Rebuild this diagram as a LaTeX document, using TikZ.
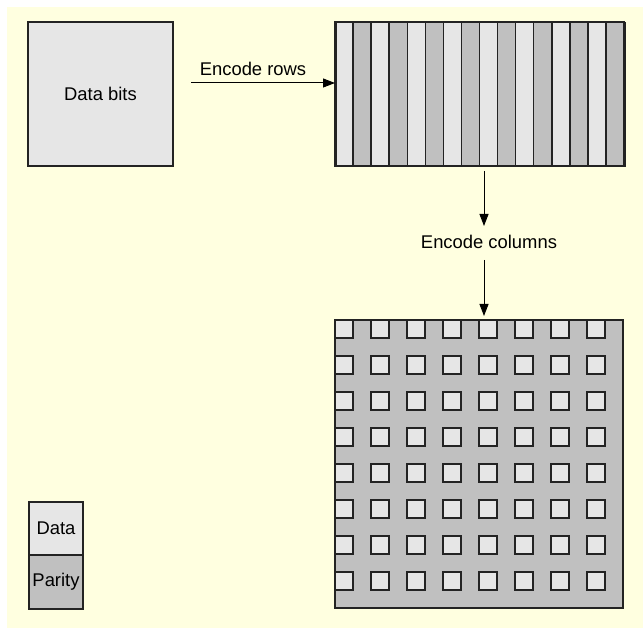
\documentclass[tikz,border=0pt]{standalone}
\usepackage{fontspec}
\setmainfont{Liberation Sans}
\usetikzlibrary{arrows.meta}
\definecolor{paper}{RGB}{255,255,224}
\definecolor{datafill}{RGB}{230,230,230}
\definecolor{parityfill}{RGB}{192,192,192}
\definecolor{edge}{RGB}{35,35,35}
\tikzset{
  block/.style={draw=edge, line width=1.5pt, inner sep=0pt, outer sep=0pt},
  databox/.style={block, fill=datafill},
  paritybox/.style={block, fill=parityfill},
  label/.style={font=\fontsize{18.4}{22}\selectfont, text=black, inner sep=0pt},
  flow/.style={line width=1pt, -{Triangle[length=12pt,width=9pt]}},
}
\begin{document}
\begin{tikzpicture}[x=1pt, y=-1pt]
  \useasboundingbox (0,0) rectangle (643,628);
  \fill[paper] (7,7) rectangle (643,628);

  % input block
  \node[databox, minimum width=145pt, minimum height=144pt, anchor=north west,
        label] (bits) at (28,22) {Data bits};

  % row-encoded block: alternating data and parity columns
  \foreach \i in {0,...,15} {
    \pgfmathsetmacro{\xx}{335+18.0625*\i}
    \ifodd\i
      \draw[paritybox] (\xx,22) rectangle ++(18.0625,144);
    \else
      \draw[databox] (\xx,22) rectangle ++(18.0625,144);
    \fi
  }
  \node[draw=edge, line width=1.5pt, minimum width=289pt, minimum height=144pt,
        anchor=north west, inner sep=0pt] (rows) at (335,22) {};

  % row + column encoded block
  \node[paritybox, minimum width=288pt, minimum height=288pt, anchor=north west]
        (grid) at (335,320) {};
  \foreach \i in {0,...,7} {
    \foreach \j in {0,...,7} {
      \draw[databox] (335+36*\i,320+36*\j) rectangle ++(18,18);
    }
  }

  % arrows and their labels
  \coordinate (rowstart) at (191,83);
  \draw[flow] (rowstart) -- (rows.west |- rowstart);
  \node[label] (rowlabel) at (253,69) {Encode rows};

  \node[label] (collabel) at (489,242) {Encode columns};
  \draw[flow] (484,171) -- (484,226);
  \draw[flow] (484,260) -- (484,316);

  % legend
  \node[databox, minimum width=54pt, minimum height=53pt, anchor=north west,
        label] (legdata) at (29,502) {Data};
  \node[paritybox, minimum width=54pt, minimum height=54pt, anchor=north,
        label] (legparity) at (legdata.south) {Parity};
\end{tikzpicture}
\end{document}
